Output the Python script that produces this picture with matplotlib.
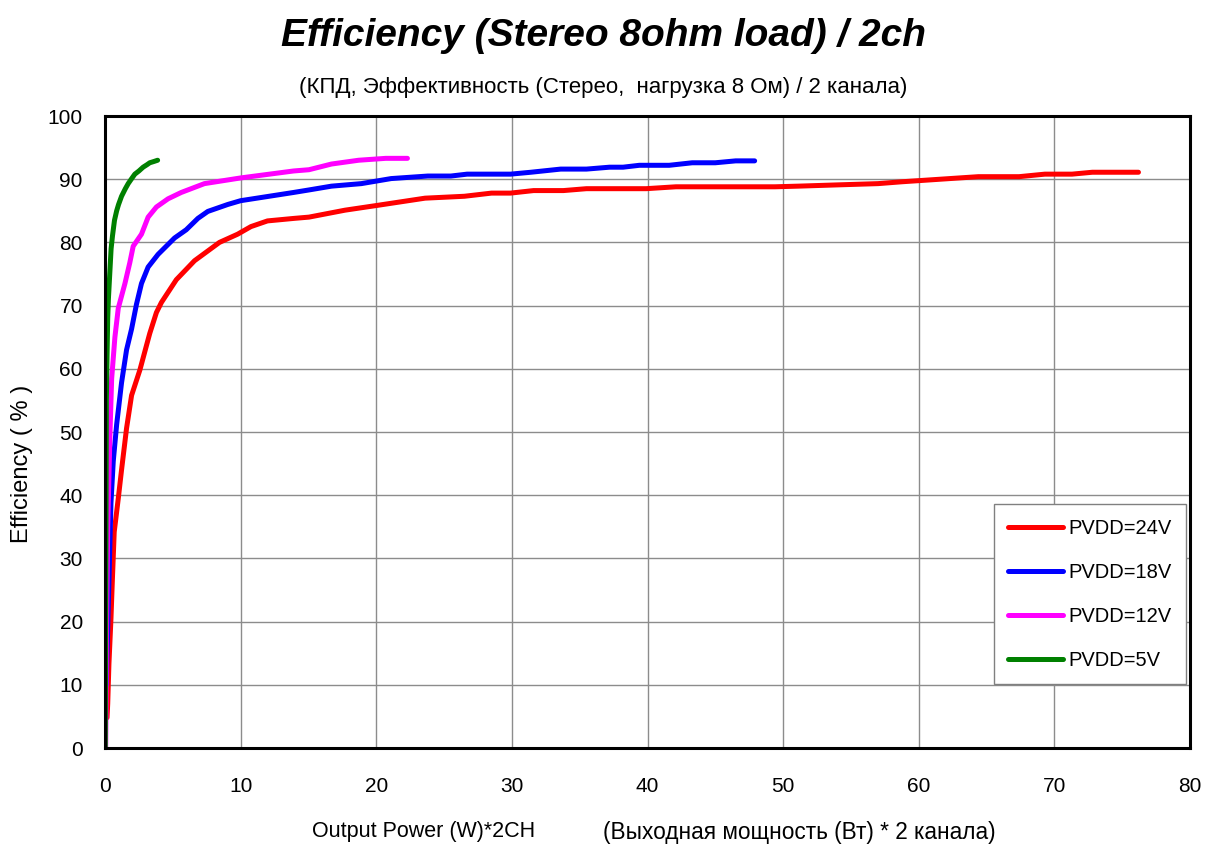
import matplotlib
matplotlib.use("Agg")
import matplotlib.pyplot as plt

plt.rcParams['font.family'] = ['Liberation Sans', 'DejaVu Sans']

# ---- data ----
red_x = [0.15, 0.2, 0.29, 0.44, 0.54, 0.68, 0.98, 1.22, 1.59, 1.96, 2.57, 3.06, 3.3, 3.79, 4.16,
         5.26, 6.6, 8.44, 9.78, 10.76, 11.98, 13.94, 15.04, 17.7, 19.9, 23.6, 26.5, 28.5, 29.9,
         31.6, 33.8, 35.5, 39.9, 42.1, 49.4, 51.1, 54.0, 57.0, 58.8, 64.4, 67.4, 69.3, 71.3, 72.8, 76.2]
red_y = [4.8, 7.0, 13.3, 20.5, 26.4, 34.2, 39.5, 44.0, 50.6, 55.8, 59.8, 63.7, 65.6, 68.9, 70.5,
         74.1, 77.1, 80.0, 81.3, 82.5, 83.4, 83.8, 84.0, 85.1, 85.8, 87.0, 87.3, 87.8, 87.8,
         88.2, 88.2, 88.5, 88.5, 88.8, 88.8, 88.9, 89.1, 89.3, 89.6, 90.4, 90.4, 90.8, 90.8, 91.1, 91.1]

blue_x = [0.1, 0.12, 0.24, 0.44, 0.61, 0.86, 1.22, 1.59, 1.96, 2.32, 2.69, 3.18, 3.91, 5.13, 5.99,
          6.85, 7.58, 9.05, 10.0, 11.5, 13.9, 15.04, 16.7, 18.9, 21.1, 23.8, 25.5, 26.7, 29.9,
          31.4, 33.6, 35.5, 37.2, 38.2, 39.4, 41.6, 43.3, 45.0, 46.5, 47.9]
blue_y = [10.0, 12.0, 22.4, 38.8, 45.4, 51.2, 57.8, 63.0, 66.3, 70.2, 73.5, 76.1, 78.1, 80.7, 82.0,
          83.8, 84.9, 86.0, 86.6, 87.1, 87.9, 88.3, 88.9, 89.3, 90.1, 90.5, 90.5, 90.8, 90.8,
          91.1, 91.6, 91.6, 91.9, 91.9, 92.2, 92.2, 92.6, 92.6, 92.9, 92.9]

magenta_x = [0.05, 0.12, 0.2, 0.37, 0.49, 0.73, 0.98, 1.47, 1.83, 2.08, 2.69, 3.18, 3.79, 4.65,
             5.62, 7.33, 10.0, 12.84, 13.9, 15.04, 16.7, 18.7, 20.7, 22.3]
magenta_y = [0.0, 20.0, 34.9, 50.0, 58.4, 65.0, 69.6, 73.5, 76.8, 79.4, 81.3, 84.0, 85.6, 86.9,
             87.9, 89.3, 90.2, 91.0, 91.3, 91.5, 92.4, 93.0, 93.3, 93.3]

green_x = [0.02, 0.05, 0.08, 0.1, 0.15, 0.2, 0.25, 0.35, 0.45, 0.55, 0.7, 0.86, 1.0, 1.22, 1.5,
           1.71, 2.0, 2.2, 2.5, 2.81, 3.1, 3.3, 3.6, 3.88]
green_y = [0.0, 20.0, 40.0, 55.0, 62.0, 68.0, 71.0, 75.0, 79.0, 81.0, 83.5, 85.0, 86.0, 87.3, 88.5,
           89.3, 90.2, 90.8, 91.3, 91.9, 92.3, 92.6, 92.8, 93.0]

labels = ["PVDD=24V", "PVDD=18V", "PVDD=12V", "PVDD=5V"]
colors = ["#ff0000", "#0000ff", "#ff00ff", "#008000"]
x_ticks = [0, 10, 20, 30, 40, 50, 60, 70, 80]
y_ticks = [0, 10, 20, 30, 40, 50, 60, 70, 80, 90, 100]

# ---- figure ----
fig = plt.figure(figsize=(12.11, 8.56), dpi=100)
ax = fig.add_axes([105 / 1211, 1 - 748 / 856, 1085 / 1211, 632 / 856])

series = [(red_x, red_y), (blue_x, blue_y), (magenta_x, magenta_y), (green_x, green_y)]
for (xs, ys), c, lab in zip(series, colors, labels):
    ax.plot(xs, ys, color=c, lw=3.6, label=lab, solid_capstyle='round', solid_joinstyle='round')

ax.set_xlim(0, 80)
ax.set_ylim(0, 100)
ax.set_xticks(x_ticks)
ax.set_yticks(y_ticks)
ax.grid(True, color="#8c8c8c", lw=1.0)
ax.set_axisbelow(True)
for s in ax.spines.values():
    s.set_linewidth(2.2)
    s.set_color("black")
ax.tick_params(axis='both', length=0, labelsize=15, colors='black')
ax.tick_params(axis='x', pad=21)
ax.tick_params(axis='y', pad=16)

leg = ax.legend(loc='lower right', bbox_to_anchor=(0.9965, 0.101), borderaxespad=0,
                fontsize=14.5, handlelength=2.7, handletextpad=0.3, labelspacing=1.25,
                borderpad=0.7, fancybox=False, framealpha=1, edgecolor="#808080")
leg.get_frame().set_linewidth(1.0)

fig.text(0.4985, 1 - 36 / 856, "Efficiency (Stereo 8ohm load) / 2ch", ha='center', va='center',
         fontsize=28, fontweight='bold', fontstyle='italic')
fig.text(0.4977, 1 - 87 / 856, "(КПД, Эффективность (Стерео,  нагрузка 8 Ом) / 2 канала)",
         ha='center', va='center', fontsize=16)
fig.text(424 / 1211, 1 - 832 / 856, "Output Power (W)*2CH", ha='center', va='center', fontsize=15.5)
fig.text(799 / 1211, 1 - 832 / 856, "(Выходная мощность (Вт) * 2 канала)", ha='center', va='center',
         fontsize=16.3)
fig.text(22 / 1211, 1 - 464 / 856, "Efficiency ( % )", ha='center', va='center', rotation=90,
         fontsize=17)

fig.savefig("out.png", dpi=100)
